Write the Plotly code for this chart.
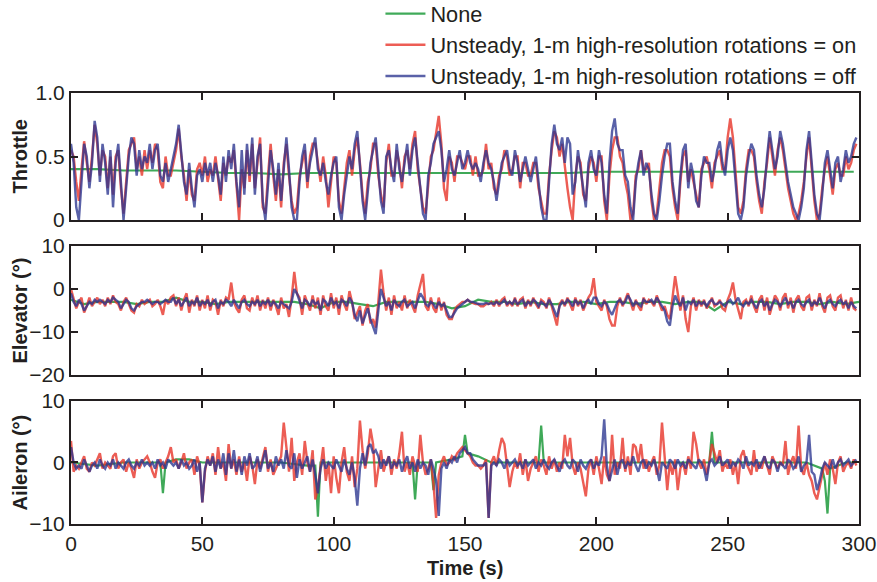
import plotly.graph_objects as go

# ---------------- data ----------------
t1 = list(range(0, 300))  # 1-s sampling for the unsteady runs

thr_on = [0.55,0.50,0.30,0.15,0.40,0.62,0.45,0.30,0.50,0.75,
          0.60,0.35,0.55,0.50,0.25,0.50,0.20,0.50,0.55,0.25,
          0.05,0.30,0.55,0.60,0.65,0.40,0.50,0.35,0.55,0.40,
          0.55,0.45,0.60,0.55,0.30,0.25,0.50,0.35,0.35,0.45,
          0.55,0.72,0.50,0.35,0.15,0.40,0.20,0.15,0.40,0.45,
          0.35,0.50,0.30,0.40,0.35,0.50,0.30,0.15,0.45,0.35,
          0.50,0.45,0.55,0.25,0.00,0.40,0.25,0.55,0.30,0.60,
          0.25,0.45,0.65,0.10,0.05,0.35,0.60,0.35,0.15,0.40,
          0.10,0.45,0.60,0.35,0.15,0.05,0.10,0.35,0.45,0.55,
          0.25,0.50,0.60,0.60,0.45,0.30,0.50,0.35,0.10,0.30,
          0.50,0.45,0.15,0.05,0.25,0.45,0.55,0.35,0.55,0.65,
          0.45,0.20,0.05,0.30,0.40,0.60,0.60,0.35,0.20,0.10,
          0.45,0.60,0.35,0.35,0.55,0.45,0.25,0.50,0.55,0.40,
          0.60,0.70,0.40,0.25,0.10,0.05,0.30,0.50,0.55,0.70,
          0.82,0.60,0.25,0.15,0.50,0.45,0.30,0.50,0.50,0.45,
          0.40,0.50,0.50,0.35,0.50,0.35,0.35,0.40,0.60,0.40,
          0.45,0.25,0.20,0.35,0.40,0.55,0.50,0.35,0.40,0.50,
          0.50,0.25,0.45,0.45,0.35,0.35,0.45,0.45,0.25,0.15,
          0.05,0.05,0.35,0.55,0.70,0.65,0.50,0.60,0.40,0.25,
          0.10,0.00,0.35,0.50,0.45,0.20,0.15,0.40,0.50,0.45,
          0.30,0.50,0.50,0.15,0.00,0.35,0.55,0.65,0.65,0.50,
          0.45,0.30,0.20,0.00,0.05,0.35,0.40,0.55,0.40,0.40,
          0.45,0.15,0.00,0.05,0.25,0.45,0.55,0.55,0.50,0.25,
          0.10,0.00,0.30,0.50,0.55,0.30,0.40,0.30,0.20,0.10,
          0.40,0.45,0.50,0.40,0.25,0.45,0.50,0.55,0.40,0.40,
          0.65,0.80,0.65,0.35,0.10,0.05,0.15,0.40,0.55,0.55,
          0.50,0.30,0.15,0.05,0.30,0.45,0.65,0.50,0.35,0.55,
          0.65,0.55,0.40,0.25,0.15,0.05,0.00,0.05,0.15,0.30,
          0.50,0.65,0.40,0.15,0.00,0.05,0.25,0.40,0.50,0.35,
          0.20,0.40,0.45,0.35,0.35,0.50,0.40,0.45,0.55,0.60]

thr_off = [0.60,0.45,0.10,0.00,0.30,0.60,0.50,0.25,0.45,0.78,
           0.65,0.30,0.60,0.45,0.20,0.55,0.10,0.45,0.60,0.30,
           0.00,0.25,0.50,0.65,0.60,0.35,0.55,0.40,0.50,0.45,
           0.60,0.40,0.55,0.60,0.35,0.30,0.45,0.30,0.40,0.50,
           0.60,0.75,0.55,0.30,0.20,0.45,0.25,0.10,0.35,0.40,
           0.30,0.45,0.35,0.45,0.30,0.45,0.35,0.20,0.50,0.30,
           0.55,0.40,0.60,0.30,0.10,0.55,0.20,0.60,0.35,0.65,
           0.20,0.50,0.60,0.15,0.00,0.30,0.55,0.40,0.20,0.45,
           0.15,0.40,0.65,0.40,0.10,0.00,0.00,0.30,0.50,0.60,
           0.30,0.45,0.55,0.65,0.40,0.35,0.45,0.30,0.20,0.35,
           0.45,0.50,0.10,0.00,0.20,0.35,0.50,0.40,0.60,0.70,
           0.40,0.15,0.00,0.25,0.45,0.55,0.65,0.40,0.15,0.05,
           0.50,0.55,0.40,0.30,0.60,0.40,0.30,0.45,0.60,0.35,
           0.55,0.65,0.45,0.30,0.05,0.00,0.35,0.45,0.60,0.65,
           0.70,0.55,0.30,0.40,0.55,0.40,0.35,0.45,0.55,0.40,
           0.45,0.55,0.45,0.40,0.45,0.40,0.30,0.45,0.55,0.45,
           0.40,0.30,0.15,0.30,0.45,0.50,0.55,0.40,0.35,0.55,
           0.45,0.30,0.40,0.50,0.40,0.30,0.40,0.50,0.30,0.10,
           0.00,0.00,0.30,0.60,0.75,0.60,0.55,0.65,0.45,0.65,
           0.60,0.20,0.30,0.55,0.40,0.25,0.10,0.45,0.55,0.40,
           0.35,0.55,0.45,0.20,0.05,0.45,0.70,0.80,0.60,0.55,
           0.55,0.35,0.30,0.10,0.00,0.30,0.45,0.55,0.35,0.45,
           0.40,0.20,0.05,0.00,0.15,0.35,0.50,0.60,0.60,0.30,
           0.15,0.05,0.35,0.55,0.60,0.25,0.45,0.35,0.15,0.10,
           0.35,0.50,0.45,0.45,0.30,0.40,0.55,0.62,0.45,0.35,
           0.55,0.65,0.55,0.30,0.05,0.00,0.10,0.35,0.50,0.60,
           0.55,0.35,0.20,0.10,0.25,0.50,0.70,0.55,0.40,0.50,
           0.70,0.60,0.45,0.30,0.20,0.10,0.05,0.00,0.10,0.25,
           0.55,0.70,0.45,0.20,0.05,0.00,0.20,0.45,0.55,0.40,
           0.25,0.45,0.50,0.30,0.40,0.55,0.45,0.50,0.60,0.65]

t_thr_none = [0,10,20,30,40,50,60,70,80,90,100,110,120,130,140,150,160,170,180,190,200,210,220,230,240,250,260,270,280,290,298]
thr_none = [0.40,0.40,0.39,0.39,0.39,0.38,0.37,0.37,0.36,0.37,0.37,0.37,0.37,0.37,0.37,0.37,0.37,0.37,0.37,0.37,0.38,0.38,0.38,0.38,0.38,0.38,0.38,0.38,0.38,0.38,0.38]

elv_on = [0,-2,-4.5,-3,-2,-5.5,-4,-2,-4,-3,
          -2,-3.5,-2.5,-4,-2,-3.5,-1.5,-3,-3.5,-5,
          -3,-2,-3.5,-5,-5.5,-3.5,-4,-2.5,-3.5,-3,
          -2.5,-4,-3.5,-2.5,-4,-6,-2.5,-3.5,-2,-1.5,
          -4,-2,-5,-2.5,-1,-5.5,-2.5,-4,-1.5,-5,
          -2.5,-4.5,-1.5,-5,-2.5,-3,-6,-2.5,-4,-2,
          -2.5,1.5,-3,-4.5,-5.5,-2.5,-1.5,-4.5,-5,-2,
          -4,-1.5,-5,-2.5,-4.5,-2,-5,-2.5,-4,-6,
          -2,-4.5,-3.5,-6.5,-2,4,-1,-2,-6,-1.5,
          -3.5,-5,-1.5,-4.5,-2,-6,-1.5,-4,-5,-1,
          -4.5,-2,-6,-1.5,-3.5,-5,-0.5,-3,-7,-5.5,
          -4,-8.5,-5,-3.5,-8,-7,-9,-3,4.5,-1,
          -5,-2,-6,-1.5,-4.5,-3,-5,-1.5,-4.5,-2.5,
          -4,-5.5,-1.5,1,3.5,-4,-5,-2,-4.5,-5.5,
          -2,-5,-3,-6,-7,-7,-5,-4,-3.5,-3,
          -3,-2.5,-3,-3.3,-3.5,-3.5,-4,-4,-3.5,-3.5,
          -3,-4,-2.5,-4,-2.5,-2,-4,-3,-4,-2,
          -4,-2.5,-2,-4.5,-2.5,-4,-2,-3.5,-4.5,-2.5,
          -3,-4.5,-2,-4,-6,-8.5,-3.5,-2.5,-4,-2,
          -3.5,-5,-2,-4,-2.5,-5,-3.5,-2,-1,2.5,
          -3,-4,-5,-2.5,-4,-7,-8.5,-8.5,-4,-2,
          -4,-2.5,-1,-3,-5,-2.5,-4,-5,-2,-3.5,
          -2.5,-3,-4,-1.5,-3.5,-5,-4,-6,-7,-2,
          3,-1,-5,-1.5,-7,-10,-4,-2,-5,-2.5,
          -4,-2.5,-4.5,-3.5,-2,-4,-3.5,-2.5,-4.5,-5,
          -2.5,-1,1.5,-2.5,-5,-7,-3,-2.5,-4,-1.5,
          -4,-5.5,-2.5,-1.5,-5,-2,-6,-4,-1.5,-2.5,
          -5,-2,-1,-4.5,-2,-5.5,-2.5,-1.5,-4,-5,
          -2,-1.5,-5,-2.5,-4,-1,-4,-5.5,-2,-1.5,
          -4,-5,-2,-1.5,-4.5,-2.5,-5,-2,-4.5,-5]

elv_off = [-1,-3,-4,-2.5,-3.5,-5,-4,-3,-3.5,-2.5,
           -3,-2.5,-3,-3.5,-2.5,-3,-2,-2.5,-3,-4.5,
           -3.5,-2.5,-3,-4.5,-5,-4,-3.5,-3,-3,-2.5,
           -3,-3.5,-3,-3,-3.5,-3,-2.5,-3,-3,-2,
           -3.5,-2.5,-4,-3,-2,-4,-3,-3.5,-2,-4,
           -3,-3.5,-2.5,-4,-3,-2.5,-4.5,-3,-3.5,-2.5,
           -3,-4,-2.5,-3.5,-4.5,-3,-2.5,-3.5,-4,-3,
           -3.5,-2.5,-4,-3,-3.5,-2.5,-4,-3,-3.5,-4.5,
           -3,-3.5,-4,-4.5,-3,0,-1,-3,-4.5,-2.5,
           -3,-4,-2.5,-3.5,-3,-5,-2.5,-3,-4,-2,
           -3.5,-3,-4.5,-2.5,-3,-4,-2,-3,-6,-7.5,
           -5,-8,-6,-4.5,-7,-9,-10.5,-5,0,-2,
           -4,-3,-5,-2.5,-3.5,-4,-3,-2.5,-4,-3.5,
           -3,-4.5,-2.5,-1,-2,-3.5,-4,-3,-3.5,-4.5,
           -3,-4,-3.5,-5,-6.5,-6.5,-5.5,-4.5,-4,-3.5,
           -3,-2.5,-3,-3,-3.2,-3.5,-3.5,-3.5,-3.2,-3.5,
           -3.3,-3.5,-3,-3.5,-3.2,-2.5,-3.5,-3,-3.5,-2.5,
           -3.5,-3,-2.5,-4,-3,-3.5,-2.5,-3,-4,-3,
           -3.5,-4,-2.5,-3.5,-5,-6.5,-4,-3,-3.5,-2.5,
           -3,-4,-2.5,-3.5,-3,-4.5,-3,-2.5,-3.5,-2,
           -2,-3.5,-4,-3,-3.5,-5,-6,-4.5,-3,-2.5,
           -3.5,-3,-1.5,-2.5,-4,-3,-3.5,-4,-2.5,-3,
           -3,-2.5,-3.5,-2,-3,-4,-5,-7.5,-8.5,-4,
           -1.5,-3,-4,-2,-5,-3,-3.5,-2.5,-4,-3,
           -3.5,-3,-4,-3,-2.5,-3.5,-3.5,-3,-3.5,-4,
           -3,-2.5,-3.5,-3,-2,-3.5,-4,-3,-3.5,-2.5,
           -3.5,-4.5,-3,-2.5,-4,-3,-5,-3.5,-2.5,-3,
           -4,-3,-2,-3.5,-3,-4.5,-3,-2.5,-3.5,-4,
           -3,-2.5,-4,-3,-3.5,-2,-3.5,-4.5,-3,-2.5,
           -3.5,-4,-3,-2.5,-3.5,-3,-4.5,-3,-4,-4.5]

t_elv_none = list(range(0, 301, 5))
elv_none = [-2.5,-3.5,-3,-3,-3,-3.5,-3,-3,-2,-3,
            -3,-3.5,-3,-3,-3,-3,-3,-3,-3.5,-4.5,
            -3,-3,-3.5,-4,-3,-3,-3,-3,-3.5,-4.5,
            -4,-2.5,-3,-3,-3.5,-3,-3.5,-3.5,-3,-3,
            -3.5,-3,-3,-3.5,-3,-3,-3.5,-3,-3,-5,
            -3,-3.5,-3,-3,-3.5,-3,-3,-3.5,-3,-3.5,-3]

ail_on = [3.5,-1.5,-0.5,-1,0,1,-1,-1.5,0,-0.5,
          0.5,1.5,-1,0,-0.5,-1,1,1.5,-1,0,
          0.5,-1.5,0,-1,-2.5,0.5,-1,0,0.5,1,
          0,-1.5,-2.5,0,0.5,-1,0,1,2.5,0,
          0.5,-1,0,1.5,-1,0,0.5,-2,1,-0.5,
          -6.5,-1.5,1,-0.5,1.5,-2,2.5,-1,0,-3,
          3,-1,0.5,-2,1,-1.5,0,-3,1,-0.5,
          -3.5,0.5,-1,1,2.5,-1.5,0.5,-2,-1,0,
          1,6.5,2,-1.5,4,-3,0,1.5,-2,3.5,
          0,-1.5,2,-6,-4,-1,2.5,-3,0,-5,
          1,-2.5,-5,0,2.5,-1.5,-3,1,-4,-1,
          6.8,2,-1,1.5,5.5,3,-4,-1,2,-1.5,
          0,1,-2,0.5,-1,1.5,5,-1.5,0,-2,
          1,-0.5,-1.5,4.5,0,-2,-1,0.5,-3.5,-9,
          -2,0,1,-0.5,0,1,0.5,1.5,2,2.5,
          2,1.5,1,0,-0.5,-0.5,-1,-0.5,0.5,-9,
          0,1,-0.5,2,4,3,-1,-4,-1.5,0,
          -1,1.5,-2,0.5,-3,-1,0,1,-1.5,0.5,
          -0.5,-2,1,-1,0.5,-1.5,0,-1,4.5,1,
          4,-0.5,-2,0,-1,-3,-5.5,-1,0.5,-2,
          1,-1,-3.5,1,-2,-3,4.5,-2,0,-1,
          4,-1.5,1,-2,3,2.5,0,3,-1,0.5,
          -1.5,0,1,-2,-0.5,6.5,1,-4.5,0,-2,
          0.5,-4.5,-1,0,-2,1,-1,5,3,0,
          -1,0.5,-2,0,3,1.5,0,2,-1.5,0,
          -1,0.5,-2,0,-3.5,1,2,0,-1,-2,
          2,-1.5,0,-1,1,-0.5,-2,1,0,-1,
          0,-0.5,3.5,-2,0,1,-1,6,-1,-2,
          0,-2,-3,-5,-6,-4,-1.5,0,-2,0.5,
          -1,-3.5,0,1,-1.5,-0.5,0,-1,0.5,-0.5]

ail_off = [2.5,0,-1,-0.5,-1,0.5,-0.5,-1.5,-0.5,0,
           -1,0.5,-0.5,-1,0,-0.5,0.5,-1,0,-0.5,
           -1,0,0.5,-0.5,-1,0,-0.5,0.5,-0.5,0,
           -0.5,0,-1,0.5,-0.5,0,-1,0.5,0,-0.5,
           0,-1,0.5,-0.5,0,-1,-0.5,0.5,-1.5,0,
           -6.5,-1,0.5,-0.5,1,-1.5,0.5,-1,1.5,-2,
           1.5,-1,2,-1.5,0.5,-2,1,-0.5,1.5,-1,
           -0.5,1,-1.5,0.5,2,-1,0,-1.5,1,-0.5,
           0.5,-1,2,-0.5,-1,1.5,-2.5,0.5,-1,0,
           1,-1.5,0.5,-2,-5,-1,0.5,-1,0,-0.5,
           -1,0.5,-0.5,-1.5,0.5,-1,-2,0,-2.5,-7,
           -1,1.5,-0.5,2.5,3,1.5,2,1,-1,0.5,
           -0.5,1,-1,0,-0.5,0.5,-1.5,0,1,-1,
           0,-1.5,0.5,-1,0,-0.5,-2,0.5,-1,-3,
           -8.7,-1,0,-1,0.5,0,1,0,1.5,2,
           2.5,1.5,1.5,0.5,0,-0.5,-0.5,-0.5,0,-9,
           -0.5,0,-0.5,0.5,0,-1,0.5,-0.5,0,0.5,
           -0.5,0,-1,0.5,-0.5,0,0.5,-1,0,-0.5,
           0.5,-0.5,-1,0,0.5,-0.5,-1.5,0,0.5,-0.5,
           -1,0.5,0,-1.5,0.5,-0.5,-1,0,0.5,-1,
           0,-0.5,1,7,-0.5,-3,-1,0.5,-2,0,
           0.5,-1,0,-0.5,1,-0.5,-1.5,0,0.5,-1,
           0,-0.5,0.5,-1,-3,0,-0.5,-1,0.5,0,
           -1,0.5,-0.5,0,-1,0.5,0,-0.5,-1,0.5,
           0,-1,-3,0,0.5,-0.5,0,1,-0.5,0,
           0.5,-1,0,-0.5,0.5,0,-1,1,-0.5,0,
           -0.5,0.5,-1,0,1,-0.5,-1,0.5,0,-1.5,
           0,-0.5,-1,0.5,0,-1,-0.5,1,-1.5,-0.5,
           0,4.5,-1.5,-2,-4.5,-3,-1,0,-0.5,-1,
           0.5,-1,0,0.5,-0.5,0,0.5,-0.5,0,0.5]

t_ail_none = [0,10,20,30,34,35,36,40,45,50,60,70,80,90,93,94,95,100,110,120,130,131,132,137,138,139,145,149,150,151,155,160,170,178,179,180,190,200,210,220,230,240,243,244,245,250,260,270,280,286,287,288,289,295,298]
ail_none = [0,-0.5,0,0,0,-5,0,0.5,0.5,0,0,0,0,-0.5,-0.5,-8.8,0,0,0,0,0,-6,0,0,-4.5,0,0.5,1,4.5,1.5,1,0,0,0,6,0,0,0,0,0,0,0,0,5,0,0,0,0,0,-1,-3,-8.3,-1,0,0]

x_ticks = [0, 50, 100, 150, 200, 250, 300]
names = ["None", "Unsteady, 1-m high-resolution rotations = on", "Unsteady, 1-m high-resolution rotations = off"]
panel_titles = ["Throttle", "Elevator (°)", "Aileron (°)"]
x_title = "Time (s)"
colors = ["#1e9b3c", "#e8352a", "#2b3590"]

# ---------------- figure ----------------
fig = go.Figure()

panels = [
    ("y", t_thr_none, thr_none, thr_on, thr_off),
    ("y2", t_elv_none, elv_none, elv_on, elv_off),
    ("y3", t_ail_none, ail_none, ail_on, ail_off),
]
xaxes = {"y": "x", "y2": "x2", "y3": "x3"}
for i, (ya, tn, gn, ron, boff) in enumerate(panels):
    show = i == 0
    fig.add_trace(go.Scatter(x=tn, y=gn, mode="lines", name=names[0], legendgroup="g",
                             showlegend=show, line=dict(color=colors[0], width=2.2),
                             opacity=0.85, xaxis=xaxes[ya], yaxis=ya))
    fig.add_trace(go.Scatter(x=t1, y=ron, mode="lines", name=names[1], legendgroup="r",
                             showlegend=show, line=dict(color=colors[1], width=2.4),
                             opacity=0.8, xaxis=xaxes[ya], yaxis=ya))
    fig.add_trace(go.Scatter(x=t1, y=boff, mode="lines", name=names[2], legendgroup="b",
                             showlegend=show, line=dict(color=colors[2], width=2.4),
                             opacity=0.78, xaxis=xaxes[ya], yaxis=ya))

font_family = "Liberation Sans, Arial, Helvetica, sans-serif"
txt = "#231f20"
ax_common = dict(showline=True, linecolor="#231f20", linewidth=2, mirror="ticks",
                 ticks="inside", ticklen=7, tickwidth=2, tickcolor="#231f20",
                 showgrid=False, zeroline=False,
                 tickfont=dict(family=font_family, size=21, color=txt))
title_font = dict(size=20, family=font_family, color=txt)

W, H = 877, 582
ML, MR, MT, MB = 71, 18, 93, 58
plot_h = H - MT - MB
plot_w = W - ML - MR

domains = [[0.7053, 1.0], [0.3457, 0.645], [0, 0.2854]]

fig.update_layout(
    width=W, height=H,
    margin=dict(l=ML, r=MR, t=MT, b=MB, autoexpand=False),
    paper_bgcolor="white", plot_bgcolor="white",
    font=dict(family=font_family, color=txt),
    legend=dict(x=0.3927, y=1 + (MT + 7) / plot_h, xref="paper", yref="paper",
                xanchor="left", yanchor="top",
                font=dict(size=21.7, color=txt, family=font_family),
                bgcolor="rgba(0,0,0,0)", tracegroupgap=0, itemwidth=40),
    xaxis=dict(domain=[0, 1], range=[0, 300], tickvals=x_ticks, showticklabels=False,
               anchor="y", **ax_common),
    xaxis2=dict(domain=[0, 1], range=[0, 300], tickvals=x_ticks, showticklabels=False,
                anchor="y2", matches="x", **ax_common),
    xaxis3=dict(domain=[0, 1], range=[0, 300], tickvals=x_ticks, anchor="y3", matches="x",
                **ax_common),
    yaxis=dict(domain=domains[0], range=[0, 1.0], tickvals=[0, 0.5, 1.0],
               ticktext=["0", "0.5", "1.0"], anchor="x", **ax_common),
    yaxis2=dict(domain=domains[1], range=[-20, 10], tickvals=[-20, -10, 0, 10], anchor="x2",
                **ax_common),
    yaxis3=dict(domain=domains[2], range=[-10, 10], tickvals=[-10, 0, 10], anchor="x3",
                **ax_common),
)

# axis titles as annotations for exact placement
for title, dom in zip(panel_titles, domains):
    fig.add_annotation(text="<b>" + title + "</b>", xref="paper", yref="paper",
                       x=-51 / plot_w, y=(dom[0] + dom[1]) / 2, textangle=-90,
                       showarrow=False, xanchor="center", yanchor="middle",
                       font=title_font)
fig.add_annotation(text="<b>" + x_title + "</b>", xref="paper", yref="paper",
                   x=0.5, y=-44 / plot_h, showarrow=False,
                   xanchor="center", yanchor="middle", font=title_font)

# remove the browser's default 8-px body margin so the figure fills the window
fig.write_html("out.html", config={"displayModeBar": False},
               post_script="document.body.style.margin='0';document.body.style.overflow='hidden';")
